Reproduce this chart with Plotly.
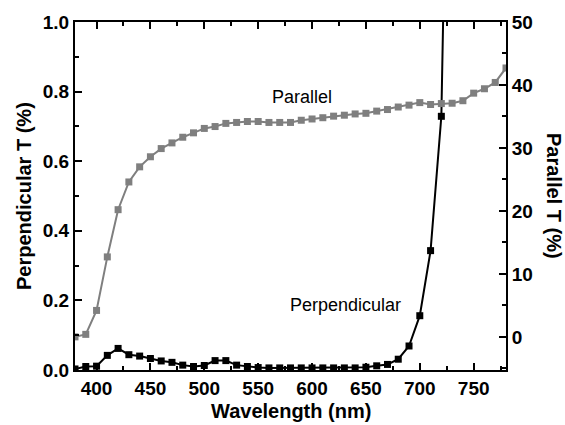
import plotly.graph_objects as go

wavelength = list(range(380, 790, 10))

parallel = [0.0, 0.4, 4.2, 12.7, 20.2, 24.6, 27.0, 28.6, 29.9, 30.8,
            31.7, 32.4, 33.1, 33.4, 33.9, 34.05, 34.2, 34.2, 34.05, 34.05,
            34.05, 34.4, 34.6, 34.8, 35.05, 35.2, 35.4, 35.5, 35.85, 36.1,
            36.5, 36.8, 37.2, 36.9, 37.05, 37.1, 37.5, 38.7, 39.4, 40.4, 42.7]

perp_wl = list(range(380, 740, 10))
perpendicular = [0.003, 0.010, 0.011, 0.042, 0.062, 0.044, 0.040, 0.033, 0.026, 0.022,
                 0.014, 0.010, 0.013, 0.027, 0.027, 0.014, 0.010, 0.007, 0.006, 0.006,
                 0.006, 0.006, 0.006, 0.006, 0.006, 0.006, 0.006, 0.008, 0.012, 0.016,
                 0.031, 0.069, 0.156, 0.343, 0.729, 2.4]

GRAY = "#7f7f7f"
FONT = "Liberation Sans, Arial, sans-serif"

# plot area in pixels: x 75..506, y 20..370
L, R, T, B = 75, 59, 20, 55
pw, ph = 565 - L - R, 425 - T - B


def px_x(p):
    return (p - L) / pw


def px_y(p):
    return (425 - B - p) / ph


fig = go.Figure()
fig.add_trace(go.Scatter(x=perp_wl, y=perpendicular, mode="lines+markers",
                         line=dict(color="black", width=2),
                         marker=dict(symbol="square", size=7, color="black"),
                         yaxis="y", showlegend=False))
fig.add_trace(go.Scatter(x=wavelength, y=parallel, mode="lines+markers",
                         line=dict(color=GRAY, width=2),
                         marker=dict(symbol="square", size=7, color=GRAY),
                         yaxis="y2", showlegend=False))

tickfont = dict(family=FONT, size=19, color="black", weight="bold")

fig.update_layout(
    width=565, height=425,
    margin=dict(l=L, r=R, t=T, b=B),
    paper_bgcolor="white", plot_bgcolor="white",
    font=dict(family=FONT, color="black"),
    xaxis=dict(range=[380, 780], dtick=50, tick0=400, ticks="inside", ticklen=7,
               tickwidth=2, tickcolor="black", showline=True, linewidth=2,
               linecolor="black", mirror="ticks", showgrid=False, zeroline=False,
               tickfont=tickfont,
               minor=dict(dtick=25, tick0=400, ticks="inside", ticklen=4,
                          tickwidth=2, tickcolor="black", showgrid=False)),
    yaxis=dict(range=[0, 1.0], dtick=0.2, tickformat=".1f", ticks="inside",
               ticklen=7, tickwidth=2, tickcolor="black", showline=True,
               linewidth=2, linecolor="black", showgrid=False, zeroline=False,
               tickfont=tickfont,
               minor=dict(dtick=0.1, ticks="inside", ticklen=4, tickwidth=2,
                          tickcolor="black", showgrid=False)),
    yaxis2=dict(range=[-5.26, 50], dtick=10, tick0=0, overlaying="y", side="right",
                ticks="inside", ticklen=7, tickwidth=2, tickcolor="black",
                showline=True, linewidth=2, linecolor="black", showgrid=False,
                zeroline=False, tickfont=tickfont,
                minor=dict(dtick=5, tick0=0, ticks="inside", ticklen=4, tickwidth=2,
                           tickcolor="black", showgrid=False)),
    annotations=[
        dict(text="<b>Wavelength (nm)</b>", x=px_x(290.5), y=px_y(411),
             xref="paper", yref="paper", xanchor="center", yanchor="middle",
             showarrow=False, font=dict(family=FONT, size=20)),
        dict(text="<b>Perpendicular T (%)</b>", x=px_x(24), y=px_y(195),
             xref="paper", yref="paper", xanchor="center", yanchor="middle",
             showarrow=False, textangle=-90, font=dict(family=FONT, size=20)),
        dict(text="<b>Parallel T (%)</b>", x=px_x(554), y=px_y(195),
             xref="paper", yref="paper", xanchor="center", yanchor="middle",
             showarrow=False, textangle=90, font=dict(family=FONT, size=20)),
        dict(text="Parallel", x=px_x(302), y=px_y(95), xref="paper", yref="paper",
             xanchor="center", yanchor="middle", showarrow=False,
             font=dict(family=FONT, size=18)),
        dict(text="Perpendicular", x=px_x(345), y=px_y(305), xref="paper",
             yref="paper", xanchor="center", yanchor="middle", showarrow=False,
             font=dict(family=FONT, size=18)),
    ],
)

fig.write_html("out.html")
